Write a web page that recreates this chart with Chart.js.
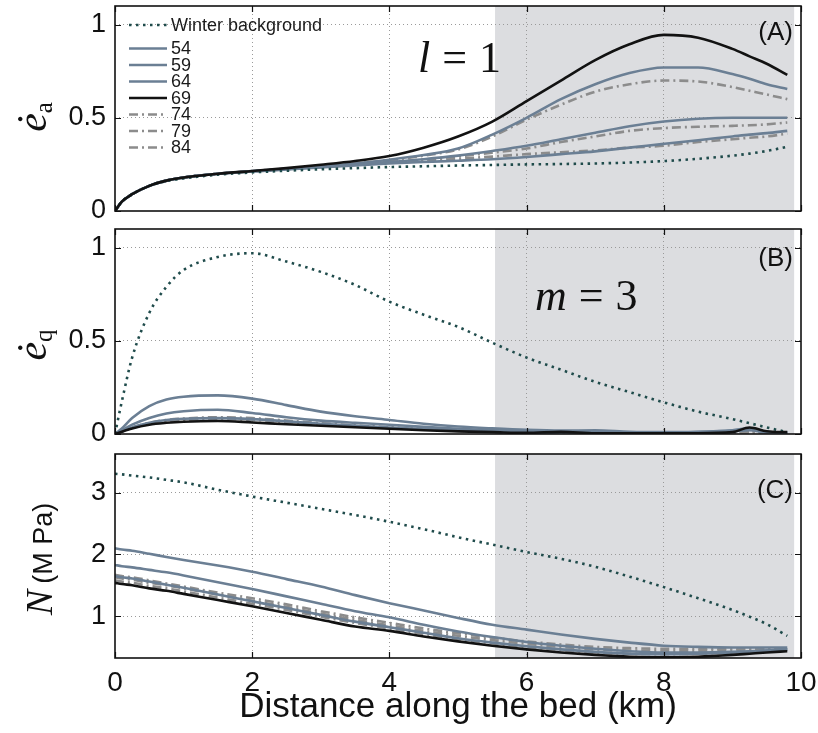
<!DOCTYPE html>
<html>
<head>
<meta charset="utf-8">
<script src="https://cdn.jsdelivr.net/npm/chart.js@4.4.1/dist/chart.umd.min.js"></script>
<style>
  html, body { margin: 0; padding: 0; background: #ffffff; }
  #wrap { position: relative; width: 818px; height: 733px; overflow: hidden; }
  #wrap canvas { position: absolute; left: 0; }
</style>
</head>
<body>
<div id="wrap">
  <canvas id="panelA" width="818" height="235" style="top:0px;width:818px;height:235px"></canvas>
  <canvas id="panelB" width="818" height="245" style="top:215px;width:818px;height:245px"></canvas>
  <canvas id="panelC" width="818" height="295" style="top:438px;width:818px;height:295px"></canvas>
</div>
<script>
// Distance along the bed (km) at which every profile is sampled
const distanceKm = [0, 0.1, 0.25, 0.5, 0.75, 1, 1.5, 2, 2.5, 3, 3.5, 4, 4.5, 5, 5.5, 6, 6.5, 7, 7.5, 8, 8.5, 9, 9.25, 9.5, 9.8];

const seriesNames = ['Winter background', '54', '59', '64', '69', '74', '79', '84'];

// (A) normalised ė_a
const eaWinter = [0, 0.05, 0.09, 0.135, 0.16, 0.175, 0.195, 0.207, 0.216, 0.224, 0.23, 0.236, 0.24, 0.244, 0.247, 0.25, 0.252, 0.255, 0.26, 0.268, 0.28, 0.297, 0.308, 0.322, 0.345];
const ea54 = [0, 0.05, 0.09, 0.135, 0.163, 0.18, 0.2, 0.212, 0.223, 0.234, 0.245, 0.255, 0.263, 0.27, 0.278, 0.29, 0.305, 0.32, 0.34, 0.36, 0.38, 0.40, 0.41, 0.418, 0.43];
const ea59 = [0, 0.05, 0.09, 0.135, 0.163, 0.18, 0.2, 0.213, 0.225, 0.237, 0.25, 0.263, 0.278, 0.297, 0.322, 0.35, 0.385, 0.42, 0.455, 0.48, 0.495, 0.50, 0.50, 0.50, 0.50];
const ea64 = [0, 0.05, 0.09, 0.135, 0.163, 0.18, 0.2, 0.214, 0.227, 0.24, 0.255, 0.275, 0.30, 0.335, 0.41, 0.50, 0.60, 0.68, 0.74, 0.77, 0.77, 0.735, 0.71, 0.68, 0.655];
const ea69 = [0, 0.05, 0.09, 0.135, 0.163, 0.18, 0.2, 0.215, 0.23, 0.248, 0.268, 0.295, 0.34, 0.40, 0.48, 0.59, 0.70, 0.81, 0.895, 0.945, 0.93, 0.87, 0.83, 0.79, 0.73];
const ea74 = [0, 0.05, 0.09, 0.135, 0.163, 0.18, 0.2, 0.214, 0.227, 0.24, 0.255, 0.273, 0.297, 0.33, 0.40, 0.49, 0.57, 0.64, 0.68, 0.70, 0.695, 0.665, 0.645, 0.625, 0.60];
const ea79 = [0, 0.05, 0.09, 0.135, 0.163, 0.18, 0.2, 0.213, 0.225, 0.237, 0.249, 0.262, 0.276, 0.293, 0.313, 0.335, 0.37, 0.40, 0.43, 0.445, 0.452, 0.457, 0.46, 0.465, 0.475];
const ea84 = [0, 0.05, 0.09, 0.135, 0.163, 0.18, 0.2, 0.212, 0.224, 0.236, 0.248, 0.26, 0.27, 0.28, 0.292, 0.305, 0.315, 0.325, 0.34, 0.35, 0.37, 0.385, 0.393, 0.40, 0.415];

// (B) normalised ė_q
const eqWinter = [0, 0.175, 0.41, 0.65, 0.79, 0.88, 0.95, 0.97, 0.925, 0.87, 0.80, 0.71, 0.64, 0.575, 0.49, 0.41, 0.345, 0.28, 0.225, 0.17, 0.12, 0.08, 0.058, 0.035, 0.01];
const eq54 = [0, 0.03, 0.086, 0.15, 0.185, 0.2, 0.207, 0.19, 0.155, 0.12, 0.095, 0.075, 0.055, 0.04, 0.03, 0.022, 0.018, 0.02, 0.012, 0.01, 0.012, 0.02, 0.03, 0.012, 0.008];
const eq59 = [0, 0.02, 0.05, 0.086, 0.11, 0.122, 0.13, 0.113, 0.09, 0.072, 0.06, 0.05, 0.038, 0.028, 0.02, 0.015, 0.01, 0.014, 0.008, 0.006, 0.01, 0.018, 0.025, 0.01, 0.006];
const eq64 = [0, 0.015, 0.035, 0.06, 0.075, 0.082, 0.085, 0.08, 0.068, 0.055, 0.045, 0.035, 0.027, 0.02, 0.015, 0.01, 0.008, 0.01, 0.005, 0.005, 0.008, 0.015, 0.02, 0.008, 0.005];
const eq69 = [0, 0.012, 0.03, 0.05, 0.06, 0.066, 0.07, 0.062, 0.052, 0.044, 0.036, 0.028, 0.02, 0.014, 0.01, 0.006, 0.012, 0.004, 0.004, 0.004, 0.004, 0.01, 0.035, 0.015, 0.01];
const eq74 = [0, 0.014, 0.035, 0.06, 0.075, 0.083, 0.09, 0.085, 0.072, 0.058, 0.046, 0.036, 0.027, 0.02, 0.014, 0.01, 0.008, 0.006, 0.005, 0.004, 0.004, 0.008, 0.015, 0.008, 0.005];
const eq79 = [0, 0.013, 0.033, 0.056, 0.07, 0.078, 0.084, 0.08, 0.068, 0.055, 0.044, 0.034, 0.026, 0.019, 0.013, 0.009, 0.007, 0.006, 0.005, 0.004, 0.004, 0.006, 0.01, 0.006, 0.004];
const eq84 = [0, 0.013, 0.032, 0.054, 0.068, 0.075, 0.08, 0.076, 0.065, 0.053, 0.042, 0.033, 0.025, 0.018, 0.012, 0.009, 0.007, 0.006, 0.005, 0.004, 0.004, 0.006, 0.01, 0.006, 0.004];

// (C) effective pressure N (MPa)
const nWinter = [3.31, 3.30, 3.28, 3.25, 3.21, 3.17, 3.05, 2.94, 2.84, 2.74, 2.64, 2.53, 2.41, 2.28, 2.16, 2.04, 1.93, 1.80, 1.64, 1.47, 1.29, 1.10, 0.99, 0.87, 0.68];
const n54 = [2.10, 2.08, 2.06, 2.01, 1.96, 1.91, 1.82, 1.72, 1.60, 1.48, 1.34, 1.21, 1.09, 0.97, 0.86, 0.78, 0.70, 0.63, 0.57, 0.52, 0.50, 0.49, 0.49, 0.49, 0.49];
const n59 = [1.83, 1.81, 1.79, 1.75, 1.71, 1.66, 1.55, 1.44, 1.32, 1.20, 1.08, 0.98, 0.86, 0.75, 0.66, 0.58, 0.52, 0.47, 0.43, 0.41, 0.41, 0.42, 0.43, 0.44, 0.46];
const n64 = [1.65, 1.63, 1.61, 1.56, 1.51, 1.46, 1.35, 1.24, 1.13, 1.02, 0.91, 0.82, 0.73, 0.64, 0.57, 0.51, 0.46, 0.42, 0.39, 0.38, 0.39, 0.41, 0.42, 0.44, 0.46];
const n69 = [1.54, 1.52, 1.50, 1.45, 1.41, 1.36, 1.26, 1.16, 1.05, 0.94, 0.83, 0.76, 0.67, 0.59, 0.52, 0.46, 0.41, 0.37, 0.34, 0.33, 0.34, 0.37, 0.39, 0.41, 0.43];
const n74 = [1.67, 1.65, 1.63, 1.58, 1.53, 1.48, 1.38, 1.29, 1.19, 1.08, 0.98, 0.89, 0.80, 0.72, 0.65, 0.59, 0.54, 0.50, 0.48, 0.47, 0.47, 0.47, 0.47, 0.47, 0.47];
const n79 = [1.58, 1.56, 1.54, 1.49, 1.45, 1.40, 1.30, 1.20, 1.10, 0.99, 0.89, 0.80, 0.71, 0.63, 0.56, 0.50, 0.45, 0.41, 0.39, 0.38, 0.39, 0.41, 0.42, 0.44, 0.45];
const n84 = [1.63, 1.61, 1.59, 1.54, 1.50, 1.45, 1.35, 1.25, 1.15, 1.04, 0.94, 0.85, 0.76, 0.68, 0.61, 0.55, 0.50, 0.46, 0.44, 0.43, 0.44, 0.45, 0.46, 0.46, 0.47];

// Axis ticks
const xTicks = [0, 2, 4, 6, 8, 10];
const yTicksA = [0, 0.5, 1];
const yTicksB = [0, 0.5, 1];
const yTicksC = [1, 2, 3];

// Summer stretch of the bed highlighted in grey (km)
const shadedFrom = 5.54;
const shadedTo = 9.9;

const FONT_SANS = '"Liberation Sans", Arial, Helvetica, sans-serif';
const FONT_SERIF = '"Liberation Serif", "Times New Roman", serif';
const BLUE = '#6b7f94';
const BLACK = '#121212';
const GREY = '#8c8c8c';
const WINTER = '#1f4b4b';

function lineStyle(name) {
  if (name === 'Winter background') return { borderColor: WINTER, borderDash: [2.5, 4.5], borderWidth: 2.6 };
  if (name === '54' || name === '59' || name === '64') return { borderColor: BLUE, borderDash: [], borderWidth: 2.6 };
  if (name === '69') return { borderColor: BLACK, borderDash: [], borderWidth: 2.6 };
  return { borderColor: GREY, borderDash: [9, 4, 2, 4], borderWidth: 2.6 };
}

function makeDatasets(series) {
  // series: arrays in the order of seriesNames
  return series.map((vals, i) => {
    const st = lineStyle(seriesNames[i]);
    return {
      label: seriesNames[i],
      data: distanceKm.map((x, k) => ({ x: x, y: vals[k] })),
      borderColor: st.borderColor,
      borderDash: st.borderDash,
      borderWidth: st.borderWidth,
      borderCapStyle: 'butt',
      pointRadius: 0,
      fill: false,
      cubicInterpolationMode: 'monotone',
      order: seriesNames[i] === '69' ? 0 : (seriesNames[i] === 'Winter background' ? 1 : 2)
    };
  });
}

function drawRotated(ctx, cx, cy, parts) {
  ctx.save();
  ctx.translate(cx, cy);
  ctx.rotate(-Math.PI / 2);
  let total = 0;
  parts.forEach(p => { ctx.font = p.font; p.w = ctx.measureText(p.text).width; total += p.w + (p.gap || 0); });
  let x = -total / 2;
  ctx.textAlign = 'left';
  ctx.textBaseline = 'alphabetic';
  ctx.fillStyle = '#111';
  parts.forEach(p => { ctx.font = p.font; ctx.fillText(p.text, x, p.dy || 0); x += p.w + (p.gap || 0); });
  ctx.restore();
}

function drawMath(ctx, x, baseline, parts) {
  ctx.save();
  ctx.textAlign = 'left';
  ctx.textBaseline = 'alphabetic';
  ctx.fillStyle = '#111';
  parts.forEach(p => { ctx.font = p.font; ctx.fillText(p.text, x, baseline); x += ctx.measureText(p.text).width + (p.gap || 0); });
  ctx.restore();
}

function framePlugin(cfg) {
  return {
    id: 'frame' + cfg.tag,
    beforeDraw(chart) {
      const { ctx, chartArea: a, scales } = chart;
      const x1 = scales.x.getPixelForValue(shadedFrom);
      const x2 = scales.x.getPixelForValue(shadedTo);
      ctx.save();
      ctx.fillStyle = '#dcdde0';
      ctx.fillRect(x1, a.top, x2 - x1, a.bottom - a.top);
      ctx.restore();
    },
    afterDraw(chart) {
      const { ctx, chartArea: a, scales } = chart;
      ctx.save();
      // inward tick marks on all four sides
      ctx.strokeStyle = '#111';
      ctx.lineWidth = 1.2;
      ctx.beginPath();
      xTicks.forEach(v => {
        const px = Math.round(scales.x.getPixelForValue(v)) + 0.5;
        ctx.moveTo(px, a.bottom); ctx.lineTo(px, a.bottom - 6);
        ctx.moveTo(px, a.top); ctx.lineTo(px, a.top + 6);
      });
      cfg.yTicks.forEach(v => {
        const py = Math.round(scales.y.getPixelForValue(v)) + 0.5;
        ctx.moveTo(a.left, py); ctx.lineTo(a.left + 6, py);
        ctx.moveTo(a.right, py); ctx.lineTo(a.right - 6, py);
      });
      ctx.stroke();
      // axes box
      ctx.lineWidth = 1.6;
      ctx.strokeStyle = '#111';
      ctx.strokeRect(a.left, a.top, a.right - a.left, a.bottom - a.top);
      ctx.restore();

      // panel tag
      ctx.save();
      ctx.font = '26px ' + FONT_SANS;
      ctx.fillStyle = '#111';
      ctx.textAlign = 'right';
      ctx.textBaseline = 'middle';
      ctx.fillText(cfg.tag, 793, cfg.tagY - cfg.offsetTop);
      ctx.restore();

      if (cfg.extra) cfg.extra(ctx, chart, cfg.offsetTop);
    }
  };
}

function makeChart(canvasId, series, cfg) {
  const isBottom = !!cfg.bottom;
  return new Chart(document.getElementById(canvasId), {
    type: 'line',
    data: { datasets: makeDatasets(series) },
    options: {
      responsive: false,
      animation: false,
      events: [],
      layout: { padding: { top: cfg.padTop, right: 17, bottom: 0, left: 0 } },
      plugins: { legend: { display: false }, tooltip: { enabled: false } },
      scales: {
        x: {
          type: 'linear',
          min: 0,
          max: 10,
          afterBuildTicks: s => { s.ticks = xTicks.map(v => ({ value: v })); },
          afterFit: s => {
            s.height = cfg.xAxisHeight;
            s.paddingLeft = 0; s.paddingRight = 0;
          },
          grid: {
            drawTicks: false,
            lineWidth: 1,
            color: c => (c.tick && (c.tick.value === 0 || c.tick.value === 10)) ? 'rgba(0,0,0,0)' : '#9a9a9a'
          },
          border: { display: false, dash: [1, 3] },
          ticks: {
            display: isBottom,
            padding: 8,
            color: '#111',
            font: { family: FONT_SANS, size: 28 },
            maxRotation: 0,
            callback: v => String(v)
          },
          title: {
            display: isBottom,
            text: 'Distance along the bed (km)',
            color: '#111',
            font: { family: FONT_SANS, size: 35 },
            padding: { top: 0, bottom: 5 }
          }
        },
        y: {
          type: 'linear',
          min: cfg.yMin,
          max: cfg.yMax,
          afterBuildTicks: s => { s.ticks = cfg.yTicks.map(v => ({ value: v })); },
          afterFit: s => {
            s.width = 115;
            s.paddingTop = 0; s.paddingBottom = 0;
          },
          grid: {
            drawTicks: false,
            lineWidth: 1,
            color: c => (c.tick && (c.tick.value === cfg.yMin)) ? 'rgba(0,0,0,0)' : '#9a9a9a'
          },
          border: { display: false, dash: [1, 3] },
          ticks: {
            padding: 9,
            color: '#111',
            font: { family: FONT_SANS, size: 27 },
            callback: v => String(v)
          }
        }
      }
    },
    plugins: [framePlugin(cfg)]
  });
}

// Legend block drawn inside panel (A)
const legendRows = [25, 48.5, 65, 81.5, 98, 114.5, 131, 147.5];
function drawLegend(ctx) {
  ctx.save();
  seriesNames.forEach((name, i) => {
    const st = lineStyle(name);
    const y = legendRows[i];
    ctx.beginPath();
    ctx.strokeStyle = st.borderColor;
    ctx.lineWidth = st.borderWidth;
    ctx.setLineDash(st.borderDash);
    ctx.moveTo(129, y);
    ctx.lineTo(167, y);
    ctx.stroke();
    ctx.setLineDash([]);
    ctx.fillStyle = '#1a1a1a';
    ctx.font = '18px ' + FONT_SANS;
    ctx.textAlign = 'left';
    ctx.textBaseline = 'middle';
    ctx.fillText(name, 171, y + 1);
  });
  ctx.restore();
}

makeChart('panelA', [eaWinter, ea54, ea59, ea64, ea69, ea74, ea79, ea84], {
  tag: '(A)', tagY: 33, offsetTop: 0, padTop: 6, xAxisHeight: 24, yMin: 0, yMax: 1.1, yTicks: yTicksA,
  extra: (ctx, chart, off) => {
    drawLegend(ctx);
    drawMath(ctx, 418, 72 - off, [
      { text: 'l', font: 'italic 44px ' + FONT_SERIF, gap: 12 },
      { text: '=', font: '44px ' + FONT_SERIF, gap: 12 },
      { text: '1', font: '44px ' + FONT_SERIF }
    ]);
    drawRotated(ctx, 36, 117 - off, [
      { text: 'ė', font: 'italic 42px ' + FONT_SERIF, dy: 10, gap: 0 },
      { text: 'a', font: '25px ' + FONT_SERIF, dy: 16 }
    ]);
  }
});

makeChart('panelB', [eqWinter, eq54, eq59, eq64, eq69, eq74, eq79, eq84], {
  tag: '(B)', tagY: 259, offsetTop: 215, padTop: 14, xAxisHeight: 26, yMin: 0, yMax: 1.1, yTicks: yTicksB,
  extra: (ctx, chart, off) => {
    drawMath(ctx, 535, 310 - off, [
      { text: 'm', font: 'italic 44px ' + FONT_SERIF, gap: 12 },
      { text: '=', font: '44px ' + FONT_SERIF, gap: 12 },
      { text: '3', font: '44px ' + FONT_SERIF }
    ]);
    drawRotated(ctx, 36, 345 - off, [
      { text: 'ė', font: 'italic 42px ' + FONT_SERIF, dy: 10, gap: 0 },
      { text: 'q', font: '25px ' + FONT_SERIF, dy: 16 }
    ]);
  }
});

makeChart('panelC', [nWinter, n54, n59, n64, n69, n74, n79, n84], {
  tag: '(C)', tagY: 491, offsetTop: 438, padTop: 16, xAxisHeight: 75, yMin: 0.32, yMax: 3.63, yTicks: yTicksC, bottom: true,
  extra: (ctx, chart, off) => {
    drawRotated(ctx, 38, 559 - off, [
      { text: 'N', font: 'italic 38px ' + FONT_SERIF, dy: 14, gap: 6 },
      { text: '(M Pa)', font: '27px ' + FONT_SANS, dy: 14 }
    ]);
  }
});
</script>
</body>
</html>
